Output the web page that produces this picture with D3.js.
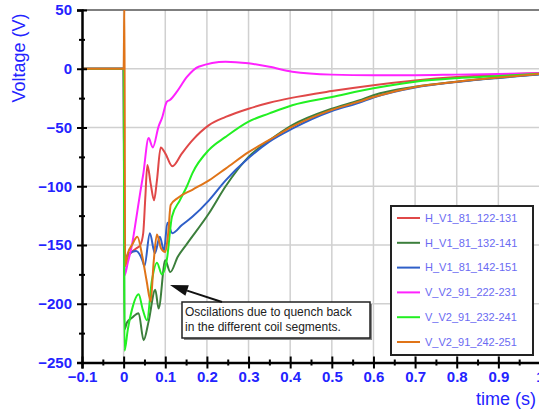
<!DOCTYPE html>
<html>
<head>
<meta charset="utf-8">
<script src="https://cdn.jsdelivr.net/npm/d3@7"></script>
<style>
  body { margin: 0; background: #fff; }
  svg { display: block; font-family: Arial, "Liberation Sans", sans-serif; }
</style>
</head>
<body>
<div id="chart"></div>
<script>
// du lieu doc tu hinh (thoi gian s, dien ap V)
const redT = [-0.1, 0, 0.002, 0.01, 0.02, 0.03, 0.04, 0.047, 0.052, 0.057, 0.065, 0.073, 0.08, 0.089, 0.1, 0.117, 0.14, 0.165, 0.205, 0.245, 0.3, 0.35, 0.4, 0.5, 0.6, 0.7, 0.8, 0.9, 1.0];
const redV = [0, 0, -168, -160, -156, -153, -150, -140, -110, -82, -98, -112, -95, -67, -72, -83, -72, -61, -48, -41, -34, -29, -25, -19, -14, -10, -7, -5, -3.5];

const dkGreenT = [-0.1, 0, 0.002, 0.008, 0.02, 0.036, 0.048, 0.06, 0.076, 0.084, 0.1, 0.112, 0.13, 0.152, 0.205, 0.245, 0.3, 0.35, 0.405, 0.5, 0.565, 0.6, 0.7, 0.8, 0.9, 1.0];
const dkGreenV = [0, 0, -222, -216, -212, -208, -231, -215, -188, -204, -163, -173, -160, -149, -123, -100, -75, -61, -48, -34, -27, -22.5, -15.3, -11, -7.6, -4.5];

const blueT = [-0.1, 0, 0.002, 0.01, 0.03, 0.045, 0.05, 0.063, 0.075, 0.087, 0.097, 0.105, 0.117, 0.14, 0.165, 0.205, 0.245, 0.3, 0.35, 0.405, 0.5, 0.565, 0.6, 0.7, 0.8, 0.9, 1.0];
const blueV = [0, 0, -165, -158, -155, -163, -168, -140, -157, -143, -155, -131, -140, -133, -126, -112, -95, -76, -62, -51, -36, -29, -24.5, -16, -11.3, -7.8, -4.8];

const magentaT = [-0.1, 0, 0.002, 0.01, 0.02, 0.03, 0.04, 0.047, 0.06, 0.07, 0.084, 0.092, 0.104, 0.111, 0.128, 0.152, 0.18, 0.245, 0.3, 0.35, 0.405, 0.5, 0.6, 0.7, 0.8, 0.9, 1.0];
const magentaV = [0, 0, -176, -165, -150, -128, -105, -90, -59, -67, -49, -42, -28, -26.6, -19.5, -7, 1.7, 6, 4.6, 1.7, -2.5, -5, -5.5, -5.5, -5, -4.5, -3.8];

const greenT = [-0.1, 0, 0.002, 0.01, 0.02, 0.036, 0.046, 0.056, 0.068, 0.08, 0.092, 0.104, 0.116, 0.135, 0.152, 0.165, 0.205, 0.245, 0.3, 0.35, 0.405, 0.5, 0.6, 0.7, 0.8, 0.9, 1.0];
const greenV = [0, 0, -240, -222, -205, -192, -205, -214, -180, -165, -175, -162, -126, -112, -100, -89, -69, -58, -45, -38, -31, -24, -16.6, -11, -8, -6.2, -4.3];

const orangeT = [-0.1, 0, 0.002, 0.0035, 0.01, 0.02, 0.033, 0.045, 0.055, 0.065, 0.072, 0.08, 0.09, 0.1, 0.107, 0.113, 0.13, 0.165, 0.205, 0.245, 0.3, 0.35, 0.405, 0.5, 0.565, 0.6, 0.7, 0.8, 0.9, 1.0];
const orangeV = [0, 0, 60, -168, -157, -150, -143, -160, -180, -198, -165, -141, -153, -156, -140, -116, -110, -103, -95, -85, -71, -60.6, -49.3, -35, -28, -24, -15.5, -11, -7.5, -4.5];

const seriesNames = ["H_V1_81_122-131", "H_V1_81_132-141", "H_V1_81_142-151", "V_V2_91_222-231", "V_V2_91_232-241", "V_V2_91_242-251"];
const seriesColors = ["#e04848", "#3c7f3c", "#2f5fc8", "#ff22ff", "#22f022", "#e07418"];

const xTicks = [-0.1, 0, 0.1, 0.2, 0.3, 0.4, 0.5, 0.6, 0.7, 0.8, 0.9, 1];
const yTicks = [50, 0, -50, -100, -150, -200, -250];

const series = [
    [redT, redV], [dkGreenT, dkGreenV], [blueT, blueV],
    [magentaT, magentaV], [greenT, greenV], [orangeT, orangeV]
].map(([t, v], i) => ({
    name: seriesNames[i],
    color: seriesColors[i],
    points: t.map((d, j) => ({ t: d, v: v[j] }))
}));

// kich thuoc
const W = 539, H = 411;
const margin = { top: 10, left: 82 };
const width = 458, height = 352.5;

const svg = d3.select("#chart").append("svg")
    .attr("width", W).attr("height", H);

const x = d3.scaleLinear().domain([-0.1, 1.0]).range([0, width]);
const y = d3.scaleLinear().domain([-250, 50]).range([height, 0]);

const g = svg.append("g").attr("transform", `translate(${margin.left},${margin.top})`);

// luoi
g.append("g").selectAll("line").data(xTicks.slice(1)).enter().append("line")
    .attr("x1", d => x(d)).attr("x2", d => x(d))
    .attr("y1", 0).attr("y2", height)
    .attr("stroke", "#d0d0d0").attr("stroke-width", 1.5);
g.append("g").selectAll("line").data(yTicks.slice(1, -1)).enter().append("line")
    .attr("x1", 0).attr("x2", width)
    .attr("y1", d => y(d)).attr("y2", d => y(d))
    .attr("stroke", "#d0d0d0").attr("stroke-width", 1.5);

// vien tren
g.append("line").attr("x1", 0).attr("x2", width).attr("y1", 0).attr("y2", 0)
    .attr("stroke", "#555").attr("stroke-width", 1.5);

// duong
svg.append("clipPath").attr("id", "clip").append("rect")
    .attr("x", 0).attr("y", 0).attr("width", width).attr("height", height);

const line = d3.line().x(d => x(d.t)).y(d => y(d.v)).curve(d3.curveMonotoneX);

g.append("g").attr("clip-path", "url(#clip)")
    .selectAll("path").data(series).enter().append("path")
    .attr("d", d => line(d.points))
    .attr("fill", "none")
    .attr("stroke", d => d.color)
    .attr("stroke-width", 2)
    .attr("stroke-linejoin", "round");

// truc
const labelColor = "#2323ff";

const yAxis = g.append("g")
    .call(d3.axisLeft(y).tickValues(yTicks).tickSize(5).tickPadding(5));
yAxis.selectAll(".tick line").attr("x1", 5).attr("stroke-width", 2);
const yMinor = g.append("g")
    .call(d3.axisLeft(y).tickValues(d3.range(-225, 50, 50)).tickSize(3).tickFormat(""));
yMinor.selectAll(".tick line").attr("x1", 3).attr("stroke-width", 2);
yMinor.select(".domain").remove();
yAxis.select(".domain").attr("stroke-width", 2.5);

const xAxis = g.append("g").attr("transform", `translate(0,${height})`)
    .call(d3.axisBottom(x).tickValues(xTicks).tickSize(6).tickPadding(3).tickFormat(d3.format("")));
xAxis.selectAll(".tick line").attr("y1", -6).attr("stroke-width", 2);
const xMinor = g.append("g").attr("transform", `translate(0,${height})`)
    .call(d3.axisBottom(x).tickValues(d3.range(-0.05, 1.0, 0.1)).tickSize(3).tickFormat(""));
xMinor.selectAll(".tick line").attr("y1", -3).attr("stroke-width", 2);
xMinor.select(".domain").remove();
xAxis.select(".domain").attr("stroke-width", 2.5);

[yAxis, xAxis].forEach(a => a.selectAll("text")
    .attr("fill", labelColor)
    .style("font-size", "15px")
    .style("font-weight", "bold")
    .style("font-family", "Arial, 'Liberation Sans', sans-serif"));

// nhan truc
svg.append("text")
    .attr("transform", "translate(25,58) rotate(-90)")
    .attr("text-anchor", "middle")
    .attr("fill", labelColor)
    .style("font-size", "18px")
    .text("Voltage (V)");
svg.append("text")
    .attr("x", 506).attr("y", 405)
    .attr("text-anchor", "middle")
    .attr("fill", labelColor)
    .style("font-size", "18px")
    .text("time (s)");

// chu thich
const legend = svg.append("g").attr("transform", "translate(391,206)");
legend.append("rect").attr("width", 142).attr("height", 149)
    .attr("fill", "#fff").attr("stroke", "#222").attr("stroke-width", 2);
const item = legend.selectAll(".item").data(series).enter().append("g")
    .attr("transform", (d, i) => `translate(0,${12 + i * 24.8})`);
item.append("line").attr("x1", 6).attr("x2", 29)
    .attr("stroke", d => d.color).attr("stroke-width", 2);
item.append("text").attr("x", 34).attr("dy", "0.35em")
    .attr("fill", "#6a6af2")
    .style("font-size", "11px")
    .text(d => d.name);

// ghi chu
const note = svg.append("g");
note.append("rect").attr("x", 184).attr("y", 304).attr("width", 188).attr("height", 36)
    .attr("fill", "#888");
note.append("rect").attr("x", 182).attr("y", 302).attr("width", 188).attr("height", 36)
    .attr("fill", "#fff").attr("stroke", "#222").attr("stroke-width", 1.5);
note.selectAll("text").data(["Oscilations due to quench back", "in the different coil segments."])
    .enter().append("text")
    .attr("x", 185).attr("y", (d, i) => 316 + i * 15)
    .attr("fill", "#222")
    .style("font-size", "12px")
    .text(d => d);

const tip = [170, 285], tail = [222, 302];
const ang = Math.atan2(tail[1] - tip[1], tail[0] - tip[0]);
const aLen = 18, aW = 5.5;
const bx = tip[0] + aLen * Math.cos(ang), by = tip[1] + aLen * Math.sin(ang);
note.append("line").attr("x1", tail[0]).attr("y1", tail[1]).attr("x2", bx).attr("y2", by)
    .attr("stroke", "#111").attr("stroke-width", 2);
note.append("path")
    .attr("d", `M${tip[0]},${tip[1]} L${bx - aW * Math.sin(ang)},${by + aW * Math.cos(ang)} L${bx + aW * Math.sin(ang)},${by - aW * Math.cos(ang)} Z`)
    .attr("fill", "#111");
</script>
</body>
</html>
